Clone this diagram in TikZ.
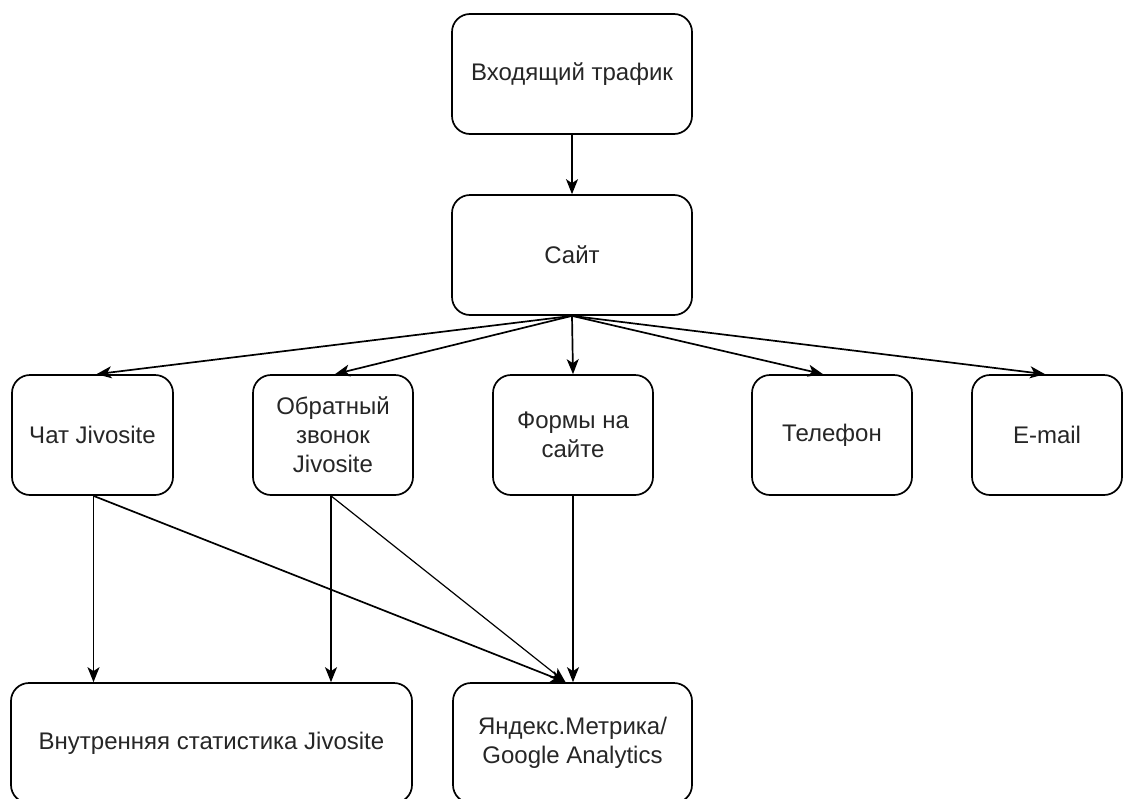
\documentclass[tikz,border=0pt]{standalone}
\usepackage{fontspec}
\setmainfont{Liberation Sans}
\usetikzlibrary{arrows.meta,calc}
\begin{document}
\begin{tikzpicture}[x=1pt,y=-1pt,
  box/.style={draw=black, line width=1.7pt, rounded corners=18pt, align=center,
    text=black!85, font=\fontsize{24}{29}\selectfont, inner sep=0pt},
  conn/.style={line width=1.7pt, -{Stealth[length=15pt,width=12pt,inset=4pt]}},
  thinconn/.style={line width=1.2pt, -{Stealth[length=15pt,width=12pt,inset=4pt]}}]
\useasboundingbox (0,0) rectangle (1124,798);
\fill[white] (0,0) rectangle (1124,798);
\node[box, minimum width=240pt, minimum height=120pt] (in) at (572,74) {Входящий трафик};
\node[box, minimum width=240pt, minimum height=120pt] (site) at (572,255) {Сайт};
\node[box, minimum width=161pt, minimum height=120pt] (chat) at (92.5,435) {Чат Jivosite};
\node[box, minimum width=160pt, minimum height=120pt] (call) at (333,435) {Обратный\\звонок\\Jivosite};
\node[box, minimum width=160pt, minimum height=120pt] (form) at (573,435) {Формы на\\сайте};
\node[box, minimum width=160pt, minimum height=120pt] (tel) at (832,435) {Телефон};
\node[box, minimum width=150pt, minimum height=120pt] (mail) at (1047,435) {E-mail};
\node[box, minimum width=401pt, minimum height=120pt] (stat) at (211.5,743) {Внутренняя статистика Jivosite};
\node[box, minimum width=239pt, minimum height=120pt] (ya) at (572.5,743) {Яндекс.Метрика/\\Google Analytics};
\coordinate (yaend) at ($(ya.north)+(-7,0)$);
\draw[conn] (in.south) -- (site.north);
\draw[conn] (site.south) -- ($(chat.north)+(4,0)$);
\draw[conn] (site.south) -- ($(call.north)+(2,0)$);
\draw[conn] (site.south) -- (form.north);
\draw[conn] (site.south) -- ($(tel.north)+(-9,0)$);
\draw[conn] (site.south) -- ($(mail.north)+(-2,0)$);
\draw[conn] ($(chat.south)+(1,0)$) coordinate (c1) -- (c1 |- stat.north);
\draw[conn] ($(call.south)+(-2,0)$) coordinate (c2) -- (c2 |- stat.north);
\draw[conn] (c1) -- (yaend);
\draw[thinconn] (c2) -- (yaend);
\draw[conn] (form.south) -- (form.south |- ya.north);
\end{tikzpicture}
\end{document}
